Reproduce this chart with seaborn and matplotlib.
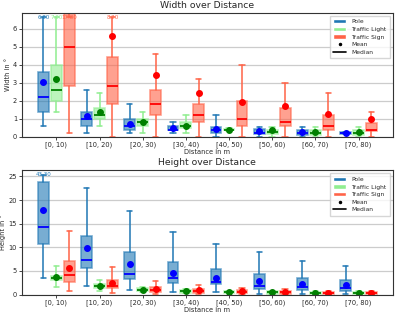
import matplotlib
matplotlib.use("Agg")
import matplotlib.pyplot as plt
import seaborn as sns
from matplotlib.patches import Patch
from matplotlib.lines import Line2D

sns.set_theme(style="ticks", rc={"axes.grid": True, "axes.grid.axis": "y",
                                 "grid.color": "#cccccc", "grid.linewidth": 0.9,
                                 "axes.edgecolor": "#333333", "axes.linewidth": 0.8})
plt.rcParams["font.family"] = ["DejaVu Sans"]

bins = ["[0, 10)", "[10, 20)", "[20, 30)", "[30, 40)",
        "[40, 50)", "[50, 60)", "[60, 70)", "[70, 80)"]
classes = ["Pole", "Traffic Light", "Traffic Sign"]

# each row: whisker low, q1, median, q3, whisker high, mean
width_pole = [[0.6, 1.4, 2.2, 3.6, 6.8, 3.04],
              [0.2, 0.6, 1.0, 1.4, 2.6, 1.18],
              [0.2, 0.4, 0.6, 1.0, 1.8, 0.7],
              [0.2, 0.35, 0.4, 0.6, 0.8, 0.5],
              [0.0, 0.22, 0.4, 0.55, 1.2, 0.42],
              [0.0, 0.15, 0.22, 0.42, 0.57, 0.3],
              [0.0, 0.12, 0.2, 0.39, 0.57, 0.26],
              [0.15, 0.16, 0.2, 0.24, 0.25, 0.2]]
width_light = [[1.4, 2.0, 2.6, 4.0, 7.0, 3.2],
               [0.6, 1.0, 1.2, 1.6, 2.4, 1.35],
               [0.2, 0.6, 0.8, 1.0, 1.4, 0.8],
               [0.2, 0.48, 0.6, 0.8, 1.2, 0.6],
               [0.3, 0.35, 0.4, 0.45, 0.5, 0.4],
               [0.0, 0.13, 0.26, 0.39, 0.57, 0.35],
               [0.0, 0.11, 0.2, 0.35, 0.57, 0.28],
               [0.0, 0.11, 0.2, 0.35, 0.57, 0.24]]
width_sign = [[0.2, 2.8, 5.0, 7.6, 17.8, 7.0],
              [0.0, 1.8, 2.8, 4.4, 8.2, 5.6],
              [0.0, 1.2, 1.8, 2.6, 4.6, 3.4],
              [0.0, 0.8, 1.2, 1.8, 3.2, 2.4],
              [0.0, 0.6, 1.0, 2.0, 4.0, 1.93],
              [0.0, 0.6, 0.8, 1.58, 3.0, 1.71],
              [0.0, 0.39, 0.6, 1.2, 2.4, 1.27],
              [0.0, 0.3, 0.39, 0.76, 1.4, 1.01]]

height_pole = [[3.5, 10.8, 14.2, 23.8, 43.3, 18.0],
               [1.7, 5.6, 7.3, 12.3, 22.5, 9.75],
               [0.85, 3.3, 4.4, 9.0, 17.7, 6.4],
               [0.55, 2.5, 3.4, 6.8, 13.3, 4.65],
               [0.5, 2.3, 2.64, 5.3, 10.6, 3.5],
               [0.2, 1.2, 1.86, 4.36, 8.9, 2.86],
               [0.2, 0.86, 1.5, 3.57, 7.07, 2.29],
               [0.2, 0.79, 1.29, 3.0, 6.14, 1.93]]
height_light = [[1.55, 3.0, 3.46, 4.0, 6.07, 3.67],
                [0.7, 1.34, 1.7, 2.2, 3.1, 1.77],
                [0.5, 0.8, 1.0, 1.34, 1.6, 1.03],
                [0.29, 0.36, 0.7, 1.0, 1.14, 0.72],
                [0.29, 0.3, 0.5, 0.71, 0.79, 0.5],
                [0.1, 0.2, 0.43, 0.64, 0.8, 0.43],
                [0.07, 0.2, 0.36, 0.5, 0.7, 0.36],
                [0.07, 0.14, 0.29, 0.43, 0.64, 0.29]]
height_sign = [[0.7, 2.75, 4.1, 7.06, 13.4, 5.7],
               [0.3, 1.34, 1.7, 3.0, 5.9, 2.4],
               [0.2, 0.45, 0.93, 1.5, 2.9, 1.1],
               [0.14, 0.36, 0.79, 1.21, 1.93, 0.86],
               [0.14, 0.29, 0.5, 0.93, 1.29, 0.64],
               [0.07, 0.14, 0.43, 0.79, 1.21, 0.57],
               [0.07, 0.14, 0.36, 0.57, 0.7, 0.36],
               [0.07, 0.14, 0.36, 0.5, 0.64, 0.36]]

box_colors = ["#1f77b4", "lightgreen", "tomato"]
mark_colors = ["blue", "green", "red"]


def draw_panel(ax, series, ymax, yticks, title, ylabel):
    clip = ymax * 0.965
    for k, (rows, fc, mc) in enumerate(zip(series, box_colors, mark_colors)):
        stats = []
        for lo, q1, med, q3, hi, mean in rows:
            stats.append(dict(whislo=lo, q1=q1, med=med, q3=q3,
                              whishi=min(hi, clip), mean=mean, fliers=[]))
        pos = [i + (k - 1) * 0.3 for i in range(len(bins))]
        ax.bxp(stats, positions=pos, widths=0.25, patch_artist=True,
               showmeans=True, showfliers=False, manage_ticks=False,
               boxprops=dict(facecolor=fc, edgecolor=fc, alpha=0.6, linewidth=1.2),
               medianprops=dict(color=mc, linewidth=1.3),
               whiskerprops=dict(color=fc, linewidth=1.1),
               capprops=dict(color=fc, linewidth=1.1),
               meanprops=dict(marker="o", markerfacecolor=mc, markeredgecolor=mc,
                              markersize=4))
        # whiskers cut by the axis get their real value written on top
        for p, row in zip(pos, rows):
            if row[4] > clip:
                ax.text(p, ymax * 0.985, f"{row[4]:.2f}", color=fc, fontsize=4,
                        ha="center", va="top")

    ax.set_xlim(-0.8, 7.8)
    ax.set_ylim(0, ymax)
    ax.set_xticks(range(len(bins)))
    ax.set_xticklabels(bins)
    ax.set_yticks(yticks)
    ax.tick_params(labelsize=4.8, length=2, width=0.6, pad=1.5)
    ax.set_title(title, fontsize=6.7, pad=3.5)
    ax.set_xlabel("Distance in m", fontsize=4.8, labelpad=0.5)
    ax.set_ylabel(ylabel, fontsize=4.8, labelpad=1.5)

    handles = [Patch(facecolor=c, label=n) for c, n in zip(box_colors, classes)]
    handles.append(Line2D([], [], marker="o", color="black", linestyle="None",
                          markersize=1.5, label="Mean"))
    handles.append(Line2D([], [], color="black", linewidth=1.2, label="Median"))
    ax.legend(handles=handles, loc="upper right", fontsize=4.3, frameon=True,
              handlelength=2.2, borderpad=0.6, labelspacing=0.4, fancybox=False)


fig, axes = plt.subplots(2, 1, figsize=(3.97, 3.16), dpi=100)
fig.subplots_adjust(left=0.055, right=0.99, top=0.96, bottom=0.068, hspace=0.27)

draw_panel(axes[0], [width_pole, width_light, width_sign], 6.88, range(0, 7),
           "Width over Distance", "Width in °")
draw_panel(axes[1], [height_pole, height_light, height_sign], 26.3, range(0, 26, 5),
           "Height over Distance", "Height in °")

fig.savefig("out.png", dpi=100)
